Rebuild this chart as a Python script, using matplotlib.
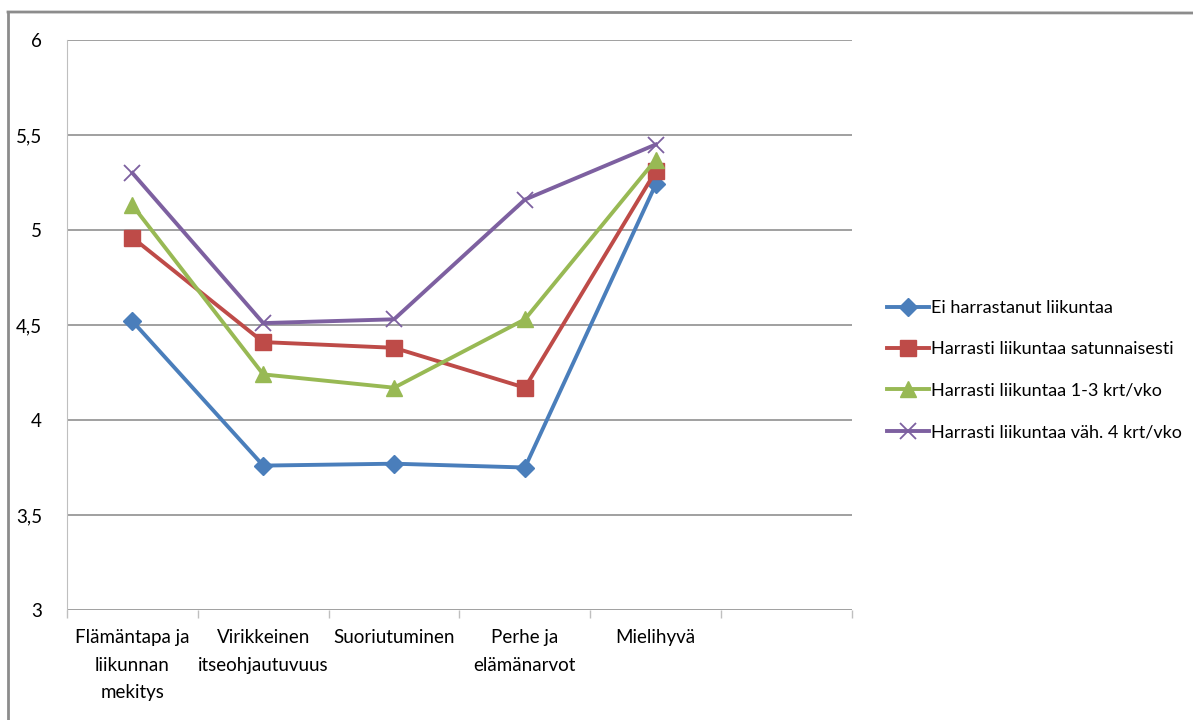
import matplotlib
matplotlib.use("Agg")
import matplotlib.pyplot as plt
from matplotlib.lines import Line2D

categories = ["Flämäntapa ja\nliikunnan\nmekitys", "Virikkeinen\nitseohjautuvuus",
              "Suoriutuminen", "Perhe ja\nelämänarvot", "Mielihyvä"]
seriesNames = ["Ei harrastanut liikuntaa", "Harrasti liikuntaa satunnaisesti",
               "Harrasti liikuntaa 1-3 krt/vko", "Harrasti liikuntaa väh. 4 krt/vko"]
eiHarrastanut = [4.52, 3.76, 3.77, 3.75, 5.24]
satunnaisesti = [4.96, 4.41, 4.38, 4.17, 5.31]
kerrat1to3 = [5.13, 4.24, 4.17, 4.53, 5.37]
vah4kertaa = [5.30, 4.51, 4.53, 5.16, 5.45]
yTicks = [3, 3.5, 4, 4.5, 5, 5.5, 6]
yTickLabels = ["3", "3,5", "4", "4,5", "5", "5,5", "6"]

plt.rcParams['font.family'] = ["Lato", "DejaVu Sans"]

fig = plt.figure(figsize=(11.93, 7.2), dpi=100)
ax = fig.add_axes([67 / 1193, 1 - 610 / 720, (852 - 67) / 1193, 570 / 720])

styles = [
    dict(color="#4A7EBB", marker="D", markersize=9),
    dict(color="#BE4B48", marker="s", markersize=11),
    dict(color="#98B954", marker="^", markersize=12),
    dict(color="#7D60A0", marker="x", markersize=12, markeredgewidth=1.3),
]
allSeries = [eiHarrastanut, satunnaisesti, kerrat1to3, vah4kertaa]
xs = list(range(len(categories)))
for name, vals, st in zip(seriesNames, allSeries, styles):
    ax.plot(xs, vals, lw=2.8, label=name, **st)

ax.set_xlim(-0.5, 5.5)
ax.set_ylim(3, 6)
ax.set_yticks(yTicks)
ax.set_yticklabels(yTickLabels, fontsize=13.5)
ax.set_xticks(xs)
ax.set_xticklabels(categories, fontsize=13.5, linespacing=1.75)
ax.tick_params(axis='x', length=0, pad=14)
ax.tick_params(axis='y', length=0, pad=18)
ax.set_xticks([i - 0.5 for i in range(7)], minor=True)
ax.tick_params(axis='x', which='minor', length=6, color="#BFBFBF", width=1)

ax.grid(axis='y', color="#868686", lw=1.1)
ax.set_axisbelow(True)
for side in ["top", "right", "bottom"]:
    ax.spines[side].set_visible(False)
ax.spines["left"].set_color("#BFBFBF")

fig.legend(loc="upper left", bbox_to_anchor=(880 / 1193, 1 - 293 / 720),
           frameon=False, fontsize=13, handlelength=2.3, handletextpad=0.1,
           labelspacing=1.4, borderaxespad=0)

# outer frame (left and top edge only)
fig.add_artist(Line2D([8 / 1193, 8 / 1193], [0, 1 - 12 / 720], color="#8C8C8C", lw=2,
                      transform=fig.transFigure))
fig.add_artist(Line2D([8 / 1193, 1], [1 - 12 / 720, 1 - 13 / 720], color="#8C8C8C", lw=2,
                      transform=fig.transFigure))

plt.savefig("out.png", dpi=100)
plt.close()
